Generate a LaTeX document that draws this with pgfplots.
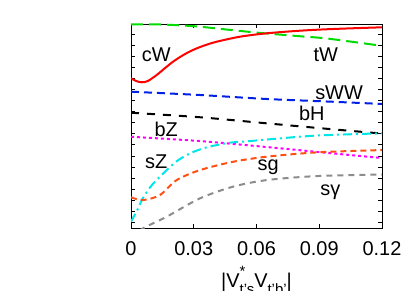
\documentclass[border=0pt]{standalone}
\usepackage{fontspec}
\setmainfont{Liberation Sans}
\usepackage{pgfplots}
\pgfplotsset{compat=1.18}
\definecolor{cgreen}{RGB}{0,220,0}
\definecolor{cred}{RGB}{255,0,0}
\definecolor{cblue}{RGB}{0,32,230}
\definecolor{cmag}{RGB}{255,0,255}
\definecolor{ccyan}{RGB}{0,230,230}
\definecolor{corange}{RGB}{255,80,20}
\definecolor{cgray}{RGB}{140,140,140}
\newcommand{\lf}{\fontsize{20}{20}\selectfont}
\newcommand{\smf}{\fontsize{15}{15}\selectfont}
\begin{document}
\begin{tikzpicture}
\useasboundingbox (0,0) rectangle (416bp,291bp);
\begin{axis}[
  at={(131bp,63bp)}, anchor=south west,
  scale only axis, width=251bp, height=204bp,
  xmin=0, xmax=0.12, ymin=-17.52, ymax=0.903,
  xtick={0,0.03,0.06,0.09,0.12}, xticklabels={0,0.03,0.06,0.09,0.12},
  ytick={-17,-16,...,0}, yticklabels={},
  tick align=inside, xtick pos=both, ytick pos=both,
  major tick length=4bp,
  axis line style={line width=0.8bp},
  tick style={line width=0.6bp, black},
  xticklabel style={font=\lf, yshift=-10bp},
  xlabel={|V\rlap{\raisebox{0.55em}{\smf *}}\raisebox{-0.4em}{\smf t's}V\raisebox{-0.4em}{\smf t'b'}|},
  xlabel style={at={(axis description cs:0.5,0)}, anchor=base, yshift=-59bp, font=\lf},
  every axis plot/.append style={line width=2bp, smooth},
]
\addplot[cgreen, dash pattern=on 12bp off 6bp] coordinates {
(0,0.87) (0.0139,0.86) (0.0304,0.70) (0.0464,0.39) (0.0622,0.09) (0.0813,-0.21) (0.0942,-0.42) (0.12,-1.07)};
\addplot[cred] coordinates {
(0,-4.00) (0.0025,-4.25) (0.00512,-4.36) (0.008,-4.25) (0.0123,-3.70) (0.016,-3.12) (0.0201,-2.50) (0.025,-1.90) (0.0296,-1.445) (0.035,-1.04) (0.041,-0.696) (0.0521,-0.244) (0.0649,0.063) (0.0808,0.298) (0.0966,0.452) (0.12,0.605)};
\addplot[cblue, dash pattern=on 8bp off 5bp] coordinates {
(0,-5.21) (0.033,-5.51) (0.065,-5.87) (0.0966,-6.12) (0.12,-6.32)};
\addplot[black, dash pattern=on 8bp off 8bp] coordinates {
(0,-7.11) (0.033,-7.52) (0.065,-8.07) (0.0966,-8.61) (0.12,-8.99)};
\addplot[cmag, dash pattern=on 3bp off 3bp] coordinates {
(0,-9.28) (0.033,-9.67) (0.065,-10.21) (0.087,-10.61) (0.1047,-10.93) (0.12,-11.20)};
\addplot[ccyan, dash pattern=on 9bp off 4bp on 2bp off 4bp] coordinates {
(0,-16.96) (0.003,-15.9) (0.00574,-14.81) (0.01,-13.64) (0.01707,-12.29) (0.022,-11.47) (0.0282,-10.78) (0.035,-10.30) (0.041,-10.03) (0.048,-9.80) (0.0569,-9.67) (0.065,-9.53) (0.0889,-9.17) (0.12,-8.97)};
\addplot[corange, dash pattern=on 6bp off 4bp] coordinates {
(0,-14.75) (0.00574,-15.0) (0.01386,-14.54) (0.02185,-13.19) (0.033,-12.29) (0.04876,-11.54) (0.065,-11.08) (0.0889,-10.69) (0.12,-10.48)};
\addplot[cgray, dash pattern=on 6bp off 5bp] coordinates {
(0,-18.4) (0.00574,-17.55) (0.01707,-16.50) (0.033,-14.84) (0.04876,-13.79) (0.065,-13.19) (0.0889,-12.83) (0.12,-12.69)};
\node[anchor=base west, inner sep=0, font=\lf] at (axis cs:0.00512,-2.50) {cW};
\node[anchor=base west, inner sep=0, font=\lf] at (axis cs:0.0872,-2.50) {tW};
\node[anchor=base west, inner sep=0, font=\lf] at (axis cs:0.088,-5.96) {sWW};
\node[anchor=base west, inner sep=0, font=\lf] at (axis cs:0.0803,-7.83) {bH};
\node[anchor=base west, inner sep=0, font=\lf] at (axis cs:0.01116,-9.28) {bZ};
\node[anchor=base west, inner sep=0, font=\lf] at (axis cs:0.0067,-12.13) {sZ};
\node[anchor=base west, inner sep=0, font=\lf] at (axis cs:0.0604,-12.35) {sg};
\node[anchor=base west, inner sep=0, font=\lf] at (axis cs:0.0904,-14.63) {sγ};
\end{axis}
\end{tikzpicture}
\end{document}
